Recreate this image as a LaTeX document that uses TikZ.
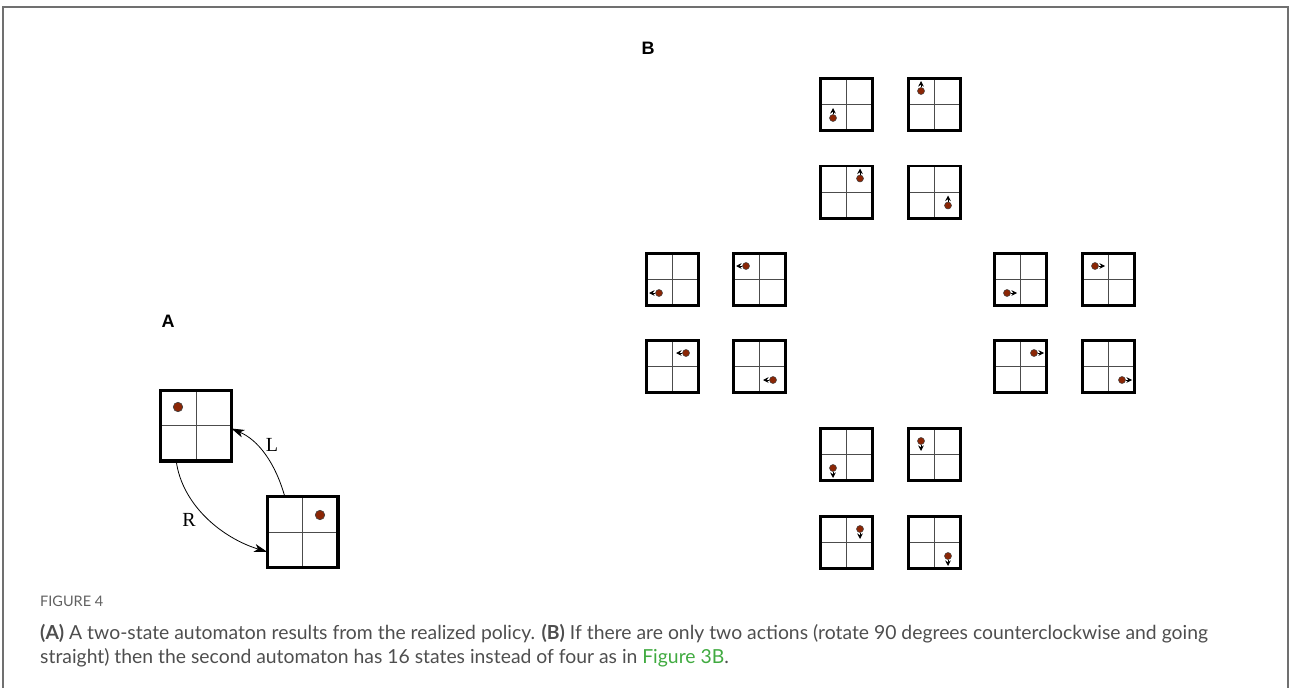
\documentclass[tikz,border=0pt]{standalone}
\usepackage{fontspec}
\setmainfont{Lato}
\newfontfamily\panelfont{Liberation Sans}
\newfontfamily\edgefont{Liberation Serif}
\usetikzlibrary{arrows.meta,calc}
\definecolor{agentred}{RGB}{139,38,5}
\definecolor{captext}{RGB}{78,78,78}
\definecolor{capgreen}{RGB}{64,170,64}
\definecolor{framegray}{RGB}{112,112,112}

% a 2x2 grid world: name, centre, box style, half border width
\newcommand\gridworld[4]{%
  \node[#3] (#1) at (#2) {};
  \draw[gridline, shorten <=#4, shorten >=#4] (#1.north) -- (#1.south);
  \draw[gridline, shorten <=#4, shorten >=#4] (#1.west) -- (#1.east);}

% an agent with its heading: name, grid, cell offset, heading offset
\newcommand\agentmove[4]{%
  \node[agentsmall] (#1) at ($(#2)+(#3)$) {};
  \coordinate (#1t) at ($(#1)+(#4)$);
  \draw[move] (#1) -- (#1t);}

\begin{document}
\begin{tikzpicture}[x=1pt,y=-1pt,
  bigworld/.style={draw,line width=3.3pt,minimum size=70.7pt,inner sep=0pt,outer sep=0pt},
  smallworld/.style={draw,line width=2.6pt,minimum size=52.4pt,inner sep=0pt,outer sep=0pt},
  gridline/.style={line width=0.9pt,black!70},
  agentbig/.style={circle,fill=agentred,draw=black!75,line width=0.6pt,minimum size=9.5pt,inner sep=0pt},
  agentsmall/.style={circle,fill=agentred,draw=black!75,line width=0.5pt,minimum size=7pt,inner sep=0pt},
  move/.style={line width=0.9pt,-{Stealth[length=5.5pt,width=5.5pt]}},
  transition/.style={line width=0.8pt,-{Stealth[length=13pt,width=8pt,inset=3.5pt]}},
  panel/.style={font=\panelfont\bfseries\fontsize{18}{20}\selectfont},
  edgelabel/.style={font=\edgefont\fontsize{20}{22}\selectfont},
  caption/.style={anchor=base west,inner sep=0pt,text=captext,font=\fontsize{19.35}{21}\selectfont}
]
\useasboundingbox (0,0) rectangle (1290,688);
\draw[framegray,line width=1.5pt] (3,688) -- (3,7) -- (1288,7) -- (1288,688);

% ---- panel A: two-state automaton
\node[panel] (labA) at (168,321) {A};
\gridworld{sA}{196,425.5}{bigworld}{1.65pt}
\gridworld{sB}{302.5,532}{bigworld}{1.65pt}
\node[agentbig] (aA) at ($(sA)+(-18,-18.5)$) {};
\node[agentbig] (aB) at ($(sB)+(17.5,-17)$) {};
\draw[transition] ($(sB.north west)!0.25!(sB.north east)$)
  .. controls (275,462) and (258,440) .. ($(sA.east)+(0,3)$);
\draw[transition] ($(sA.south west)!0.22!(sA.south east)$)
  .. controls (182,505) and (222,538) .. ($(sB.north west)!0.78!(sB.south west)$);
\node[edgelabel] (labL) at (272,445) {L};
\node[edgelabel] (labR) at (189,520) {R};

% ---- panel B: sixteen states
\node[panel] (labB) at (648,48) {B};
\foreach \g/\c/\cell/\dir in {
  u1/{846.5,104.5}/{-13.5,13.5}/{0,-10},
  u2/{934.5,104.5}/{-13.5,-13.5}/{0,-10},
  u3/{846.5,192}/{13.5,-13.5}/{0,-10},
  u4/{934.5,192}/{13.5,13.5}/{0,-10},
  l1/{672.5,279.5}/{-13.5,13.5}/{-10,0},
  l2/{759.5,279.5}/{-13.5,-13.5}/{-10,0},
  l3/{672.5,366.5}/{13.5,-13.5}/{-10,0},
  l4/{759.5,366.5}/{13.5,13.5}/{-10,0},
  r1/{1020.5,279.5}/{-13.5,13.5}/{10,0},
  r2/{1108.5,279.5}/{-13.5,-13.5}/{10,0},
  r3/{1020.5,366.5}/{13.5,-13.5}/{10,0},
  r4/{1108.5,366.5}/{13.5,13.5}/{10,0},
  d1/{846.5,454.5}/{-13.5,13.5}/{0,10},
  d2/{934.5,454.5}/{-13.5,-13.5}/{0,10},
  d3/{846.5,542.5}/{13.5,-13.5}/{0,10},
  d4/{934.5,542.5}/{13.5,13.5}/{0,10}} {
  \gridworld{w\g}{\c}{smallworld}{1.3pt}
  \agentmove{a\g}{w\g}{\cell}{\dir}
}

% ---- caption
\node[caption,font=\fontsize{14.5}{16}\selectfont,text=black!62] (capHead) at (40,606) {FIGURE 4};
\node[caption] (capOne) at (40,639) {\textbf{(A)} A two-state automaton results from the realized policy. \textbf{(B)} If there are only two actions (rotate 90 degrees counterclockwise and going};
\node[caption] (capTwo) at (40,663) {straight) then the second automaton has 16 states instead of four as in \textcolor{capgreen}{Figure 3B}.};
\end{tikzpicture}
\end{document}
